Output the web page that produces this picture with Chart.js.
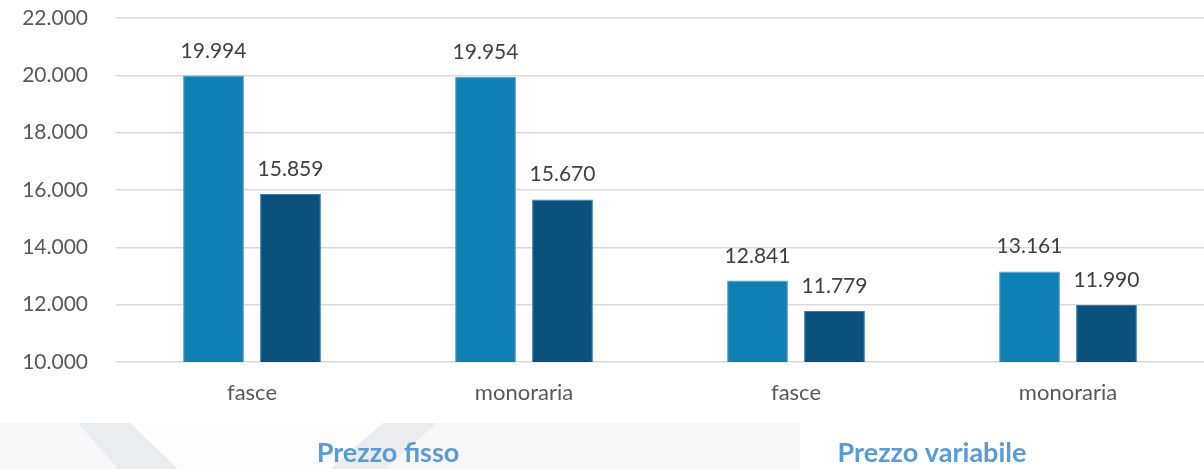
<!DOCTYPE html>
<html>
<head>
<meta charset="utf-8">
<script src="https://cdn.jsdelivr.net/npm/chart.js@4"></script>
<style>
  html, body { margin: 0; padding: 0; background: #fff; }
  #wrap { width: 1204px; height: 469px; position: relative; }
</style>
</head>
<body>
<div id="wrap"><canvas id="graficoPrezzi"></canvas></div>
<script>
// dati
var categorie = ['fasce', 'monoraria', 'fasce', 'monoraria'];
var gruppi = ['Prezzo fisso', 'Prezzo variabile'];
var serieA = [19994, 19954, 12841, 13161];
var serieB = [15859, 15670, 11779, 11990];
var tickY = [10000, 12000, 14000, 16000, 18000, 20000, 22000];

function formatta(v) {
	return String(v).replace(/\B(?=(\d{3})+(?!\d))/g, '.');
}

// sfondo chiaro in basso (filigrana)
var sfondo = {
	id: 'sfondo',
	beforeDraw: function(chart) {
		var c = chart.ctx;
		c.save();
		c.fillStyle = '#f8f8f9';
		c.fillRect(0, 423, 800, 46);
		c.fillStyle = '#ebecef';
		c.beginPath();
		c.moveTo(78, 423); c.lineTo(130, 423); c.lineTo(178, 469); c.lineTo(118, 469);
		c.closePath(); c.fill();
		c.beginPath();
		c.moveTo(383, 423); c.lineTo(437, 423); c.lineTo(385, 469); c.lineTo(330, 469);
		c.closePath(); c.fill();
		c.fillStyle = '#fdfdfd';
		c.beginPath();
		c.moveTo(130, 423); c.lineTo(383, 423); c.lineTo(330, 469); c.lineTo(178, 469);
		c.closePath(); c.fill();
		c.restore();
	}
};

// etichette sopra le barre
var etichette = {
	id: 'etichette',
	afterDatasetsDraw: function(chart) {
		var c = chart.ctx;
		c.save();
		c.font = '21px Lato';
		c.fillStyle = '#404040';
		c.textAlign = 'center';
		c.textBaseline = 'alphabetic';
		chart.data.datasets.forEach(function(ds, i) {
			chart.getDatasetMeta(i).data.forEach(function(bar, j) {
				c.fillText(formatta(ds.data[j]), bar.x, bar.y - 18);
			});
		});
		c.restore();
	}
};

new Chart(document.getElementById('graficoPrezzi').getContext('2d'), {
	type: 'bar',
	data: {
		labels: categorie,
		datasets: [{
			label: 'A',
			backgroundColor: '#0e80b3',
			borderColor: '#4aa3cf',
			borderWidth: 1,
			data: serieA
		}, {
			label: 'B',
			backgroundColor: '#0a527d',
			borderColor: '#3f7ba0',
			borderWidth: 1,
			data: serieB
		}]
	},
	options: {
		responsive: true,
		maintainAspectRatio: false,
		animation: false,
		categoryPercentage: 0.566,
		barPercentage: 0.79,
		layout: { padding: { top: 18, left: 0, right: 0, bottom: 2 } },
		plugins: {
			legend: { display: false },
			tooltip: { enabled: false }
		},
		scales: {
			y: {
				min: 10000,
				max: 22000,
				afterBuildTicks: function(scale) {
					scale.ticks = tickY.map(function(v) { return { value: v }; });
				},
				afterFit: function(scale) {
					scale.width = 116;
					scale.paddingTop = 0;
					scale.paddingBottom = 0;
				},
				border: { display: false },
				grid: { color: '#d9d9d9', lineWidth: 1.5, drawTicks: false },
				ticks: {
					padding: 28,
					color: '#595959',
					font: { family: 'Lato', size: 21 },
					callback: function(v) { return formatta(v); }
				}
			},
			x: {
				afterFit: function(scale) { scale.height = 48; },
				border: { display: false },
				grid: { display: false, drawTicks: false },
				ticks: {
					padding: 18,
					color: '#595959',
					font: { family: 'Lato', size: 22 }
				}
			},
			x2: {
				type: 'category',
				position: 'bottom',
				labels: gruppi,
				offset: true,
				afterFit: function(scale) { scale.height = 57; },
				border: { display: false },
				grid: { display: false, drawTicks: false },
				ticks: {
					padding: 27,
					color: '#5b9bd5',
					font: { family: 'Lato', size: 27, weight: 'bold' }
				}
			}
		}
	},
	plugins: [sfondo, etichette]
});
</script>
</body>
</html>
